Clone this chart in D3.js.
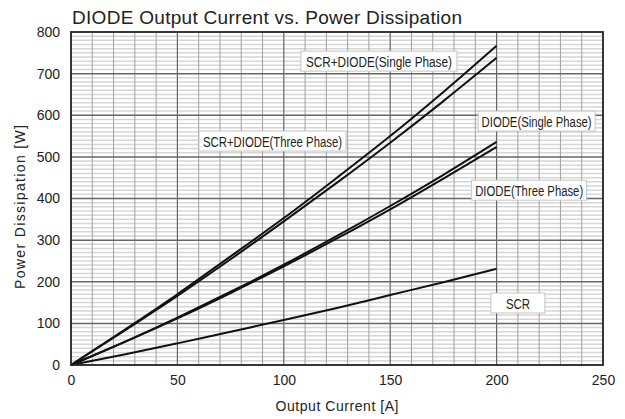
<!DOCTYPE html>
<html lang="en">
<head>
<meta charset="UTF-8">
<title>DIODE Output Current vs. Power Dissipation</title>
<script src="https://d3js.org/d3.v7.min.js"></script>
<style>
  body { margin: 0; background: #fff; }
  text { font-family: "Liberation Sans", Arial, sans-serif; fill: #222; }
</style>
</head>
<body>
<script>
// ---- data ----
var current = [0, 25, 50, 75, 100, 125, 150, 175, 200];
var scrDiodeSingle = [0, 84, 170, 261, 353, 450, 550, 656, 767];
var scrDiodeThree  = [0, 82, 166, 254, 345, 438, 534, 634, 738];
var diodeSingle    = [0, 55, 114, 176, 241, 310, 382, 457, 536];
var diodeThree     = [0, 55, 112, 173, 237, 304, 374, 448, 524];
var scr            = [0, 25, 52, 80, 108, 137, 168, 199, 231];

var xTicks = [0, 50, 100, 150, 200, 250];
var yTicks = [0, 100, 200, 300, 400, 500, 600, 700, 800];

// label box centres, in data units (A, W)
var labels = [
  {text: 'SCR+DIODE(Single Phase)', a: 144.7, w: 730, len: 146, box: 156},
  {text: 'SCR+DIODE(Three Phase)', a: 94.7, w: 538, len: 139, box: 147},
  {text: 'DIODE(Single Phase)', a: 218.8, w: 586, len: 110, box: 117},
  {text: 'DIODE(Three Phase)', a: 215.3, w: 420, len: 108, box: 115},
  {text: 'SCR', a: 210, w: 149, len: 24, box: 54}
];

var margin = {top: 32, left: 71, right: 22, bottom: 54};
var width = 625 - margin.left - margin.right,
    height = 419 - margin.top - margin.bottom;

var svg = d3.select('body').append('svg')
  .attr('width', 625)
  .attr('height', 419);

var g = svg.append('g')
  .attr('transform', 'translate(' + margin.left + ',' + margin.top + ')');

var x = d3.scaleLinear().domain([0, 250]).range([0, width]);
var y = d3.scaleLinear().domain([0, 800]).range([height, 0]);

// ---- grid ----
g.append('g').selectAll('line')
  .data(d3.range(10, 800, 10).filter(function (d) { return d % 100 !== 0; }))
  .enter().append('line')
  .attr('x1', 0).attr('x2', width)
  .attr('y1', function (d) { return y(d); }).attr('y2', function (d) { return y(d); })
  .attr('stroke', '#d6d6d6').attr('stroke-width', 1.5);

g.append('g').selectAll('line')
  .data(d3.range(10, 250, 10).filter(function (d) { return d % 50 !== 0; }))
  .enter().append('line')
  .attr('y1', 0).attr('y2', height)
  .attr('x1', function (d) { return x(d); }).attr('x2', function (d) { return x(d); })
  .attr('stroke', '#a0a0a0').attr('stroke-width', 1);

g.append('g').selectAll('line')
  .data(yTicks.slice(1, -1))
  .enter().append('line')
  .attr('x1', 0).attr('x2', width)
  .attr('y1', function (d) { return y(d); }).attr('y2', function (d) { return y(d); })
  .attr('stroke', '#666').attr('stroke-width', 1.5);

g.append('g').selectAll('line')
  .data(xTicks.slice(1, -1))
  .enter().append('line')
  .attr('y1', 0).attr('y2', height)
  .attr('x1', function (d) { return x(d); }).attr('x2', function (d) { return x(d); })
  .attr('stroke', '#666').attr('stroke-width', 1.2);

// ---- curves ----
var line = d3.line()
  .x(function (d, i) { return x(current[i]); })
  .y(function (d) { return y(d); })
  .curve(d3.curveMonotoneX);

[scrDiodeSingle, scrDiodeThree, diodeSingle, diodeThree, scr].forEach(function (s) {
  g.append('path')
    .datum(s)
    .attr('d', line)
    .attr('fill', 'none')
    .attr('stroke', '#111')
    .attr('stroke-width', 2);
});

// ---- frame ----
g.append('rect')
  .attr('width', width).attr('height', height)
  .attr('fill', 'none').attr('stroke', '#222').attr('stroke-width', 1.8);

// ---- label boxes ----
labels.forEach(function (l) {
  var lg = g.append('g');
  var cx = x(l.a);
  lg.append('rect')
    .attr('x', cx - l.box / 2).attr('y', y(l.w) - 10)
    .attr('width', l.box).attr('height', 20)
    .attr('fill', '#fff').attr('stroke', '#c4c4c4').attr('stroke-width', 1);
  lg.append('text')
    .attr('x', cx).attr('y', y(l.w) + 1)
    .attr('text-anchor', 'middle')
    .attr('dominant-baseline', 'central')
    .attr('textLength', l.len)
    .attr('lengthAdjust', 'spacingAndGlyphs')
    .style('font-size', '14px')
    .text(l.text);
});

// ---- axes ----
var xAxis = g.append('g')
  .attr('transform', 'translate(0,' + height + ')')
  .call(d3.axisBottom(x).tickValues(xTicks).tickSize(0).tickPadding(10));
var yAxis = g.append('g')
  .call(d3.axisLeft(y).tickValues(yTicks).tickSize(0).tickPadding(11));
[xAxis, yAxis].forEach(function (a) {
  a.select('.domain').remove();
  a.selectAll('text').style('font-size', '14px').style('font-family', '"Liberation Sans", Arial, sans-serif').attr('fill', '#222');
});

// ---- titles ----
svg.append('text')
  .attr('x', 72).attr('y', 24)
  .attr('textLength', 390)
  .style('font-size', '19px')
  .text('DIODE Output Current vs. Power Dissipation');

svg.append('text')
  .attr('x', margin.left + width / 2).attr('y', 411)
  .attr('text-anchor', 'middle')
  .attr('textLength', 123)
  .style('font-size', '14px')
  .text('Output Current [A]');

svg.append('text')
  .attr('transform', 'translate(25,' + 207 + ') rotate(-90)')
  .attr('text-anchor', 'middle')
  .attr('textLength', 164)
  .style('font-size', '14px')
  .text('Power Dissipation [W]');
</script>
</body>
</html>
